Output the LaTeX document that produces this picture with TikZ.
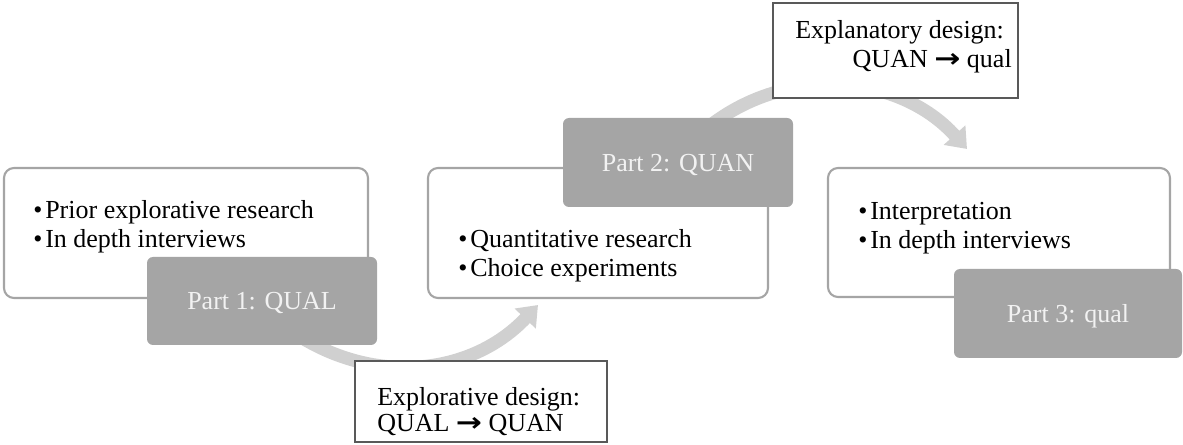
\documentclass[tikz,border=0pt]{standalone}
\usepackage{fontspec}
\setmainfont{Liberation Serif}
\newfontfamily\arrowfont{DejaVu Sans}
\usetikzlibrary{arrows.meta}
\definecolor{boxgray}{HTML}{A5A5A5}
\definecolor{arcgray}{HTML}{D0D0D0}
\definecolor{callgray}{HTML}{595959}
\definecolor{labwhite}{HTML}{F2F2F2}
\newcommand{\thickarr}{{\arrowfont\bfseries\scalebox{1.2}[1]{→}}}
\newcommand{\bul}{\makebox[9pt][l]{•}}
\begin{document}
\begin{tikzpicture}[x=0.75pt, y=0.75pt,
  font=\fontsize{19.5pt}{21.75pt}\selectfont,
  wbox/.style={draw=boxgray, line width=1.6pt, fill=white, rounded corners=7.5pt, inner sep=0pt},
  gbox/.style={fill=boxgray, rounded corners=4.5pt, inner sep=0pt, text=labwhite,
               text height=12.9pt, text depth=0pt},
  callout/.style={draw=callgray, line width=1.9pt, fill=white, inner sep=0pt},
  txt/.style={anchor=base west, inner sep=0pt},
  arcarrow/.style={draw=arcgray, line width=9.75pt, -{Triangle[length=14pt,width=21pt]}}
]
\useasboundingbox (0,0) rectangle (1183,-445);

% arcs (drawn first, beneath the boxes)
\coordinate (a1s) at (300,-336.6);
\coordinate (a1e) at (538,-305);
\coordinate (a2s) at (704,-130.5);
\coordinate (a2e) at (967,-149);
\draw[arcarrow] (a1s) to[out=-31.75, in=226.7] (a1e);
\draw[arcarrow] (a2s) to[out=40, in=132] (a2e);

% white boxes
\node[wbox, minimum width=273pt, minimum height=97.5pt] (box1) at (186,-233) {};
\node[wbox, minimum width=255pt, minimum height=97.5pt] (box2) at (598,-233) {};
\node[wbox, minimum width=256.5pt, minimum height=96.75pt] (box3) at (999,-232.5) {};

% gray label boxes
\node[gbox, minimum width=172.5pt, minimum height=66pt] (part1) at (262,-301) {Part 1: QUAL};
\node[gbox, minimum width=172.5pt, minimum height=66.75pt] (part2) at (678,-162.5) {Part 2: QUAN};
\node[gbox, minimum width=171pt, minimum height=66.75pt] (part3) at (1068,-313.5) {Part 3: qual};

% callouts
\node[callout, minimum width=189pt, minimum height=60.75pt] (call1) at (481,-401.5) {};
\node[callout, minimum width=183.75pt, minimum height=71.25pt] (call2) at (895.5,-50.5) {};

% bullet texts
\node[txt] (b1a) at (33,-219) {\bul Prior explorative research};
\node[txt] (b1b) at (33,-248) {\bul In depth interviews};
\node[txt] (b2a) at (458,-248) {\bul Quantitative research};
\node[txt] (b2b) at (458,-277) {\bul Choice experiments};
\node[txt] (b3a) at (858,-220) {\bul Interpretation};
\node[txt] (b3b) at (858,-249) {\bul In depth interviews};

% callout texts
\node[txt] (c1a) at (377,-406) {Explorative design:};
\node[txt] (c1b) at (377,-432) {QUAL \thickarr{} QUAN};
\node[txt] (c2a) at (795,-39) {Explanatory design:};
\node[anchor=base east, inner sep=0pt] (c2b) at (1012,-68) {QUAN \thickarr{} qual};
\end{tikzpicture}
\end{document}
